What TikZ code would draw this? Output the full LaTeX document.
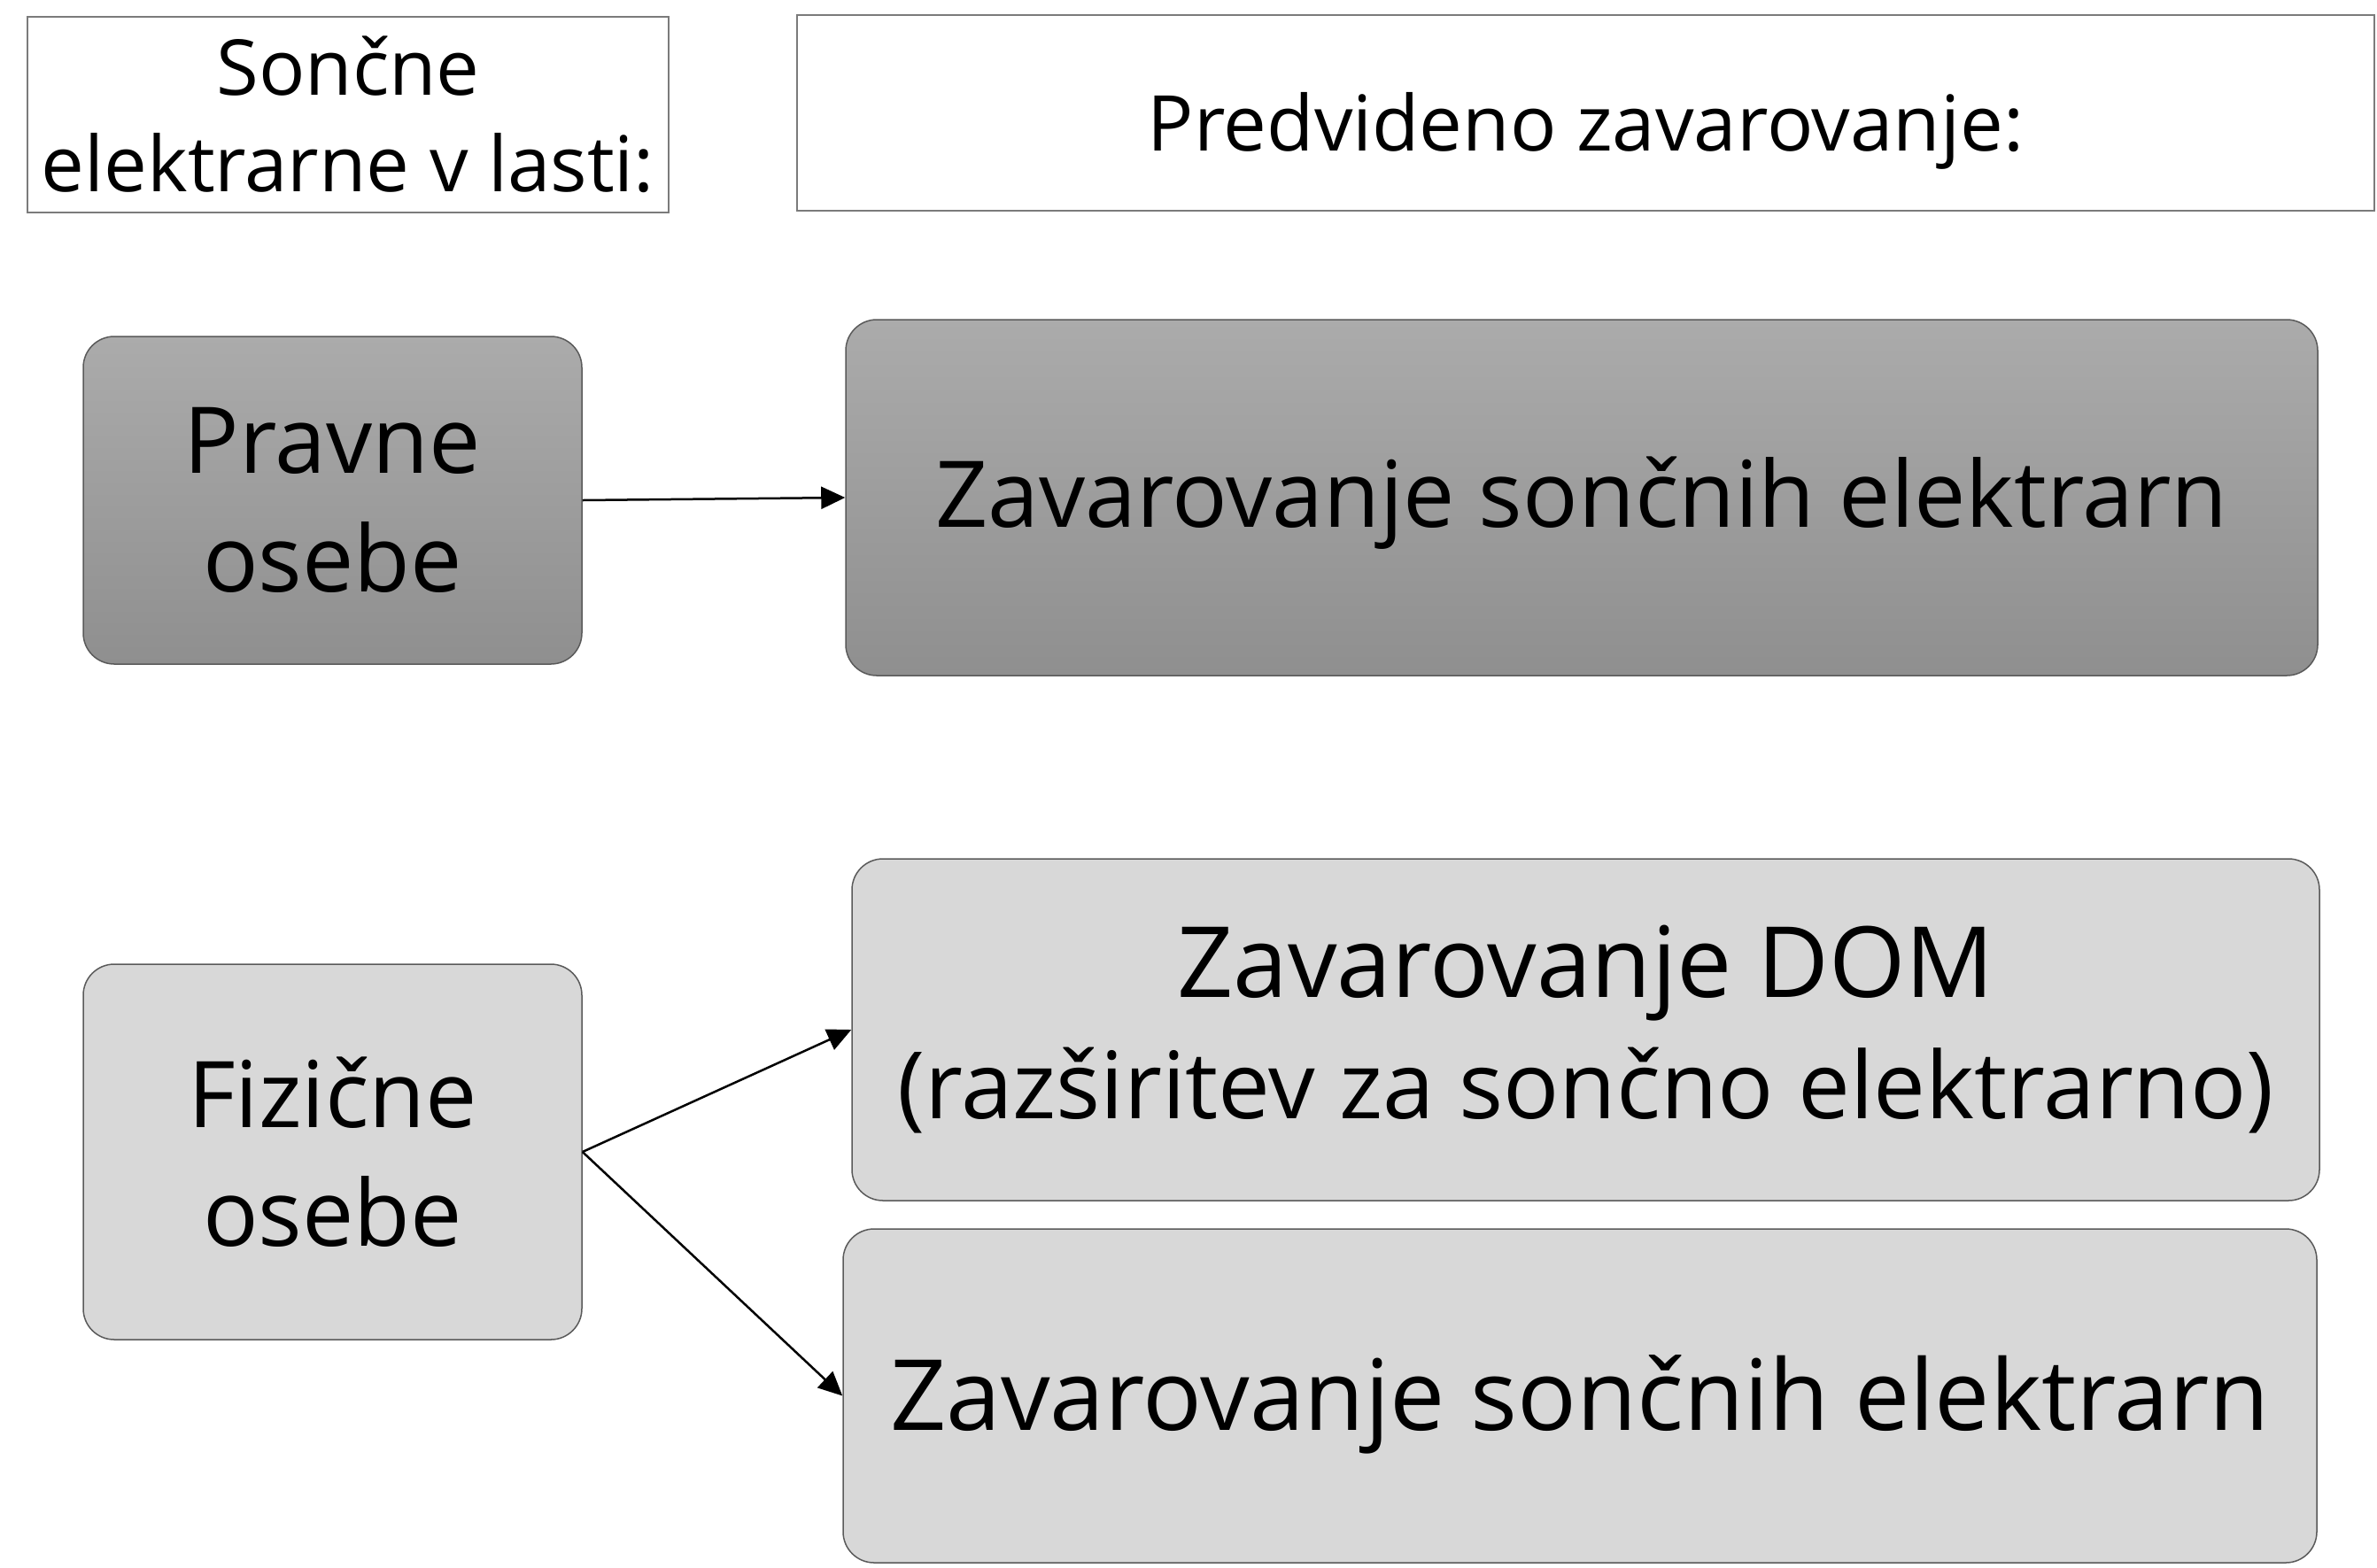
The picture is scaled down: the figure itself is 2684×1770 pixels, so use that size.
\documentclass[tikz,border=0pt]{standalone}
\usepackage{fontspec}
\setmainfont{Open Sans}
\usepackage{tikz}
\usepackage{xcolor}
\usetikzlibrary{arrows.meta}

\definecolor{svetla}{HTML}{D8D8D8}
\definecolor{temnazg}{HTML}{ABABAB}
\definecolor{temnasp}{HTML}{8F8F8F}
\definecolor{obroba}{HTML}{5A5A5A}

% spusti besedilo, velikost skatle ostane ista
\newcommand{\spusti}[2]{\raisebox{-#1}[\height][\depth]{#2}}

\begin{document}
\begin{tikzpicture}[x=1pt,y=-1pt,
  glava/.style={draw=obroba!80,line width=2pt,fill=white,align=center,inner sep=0pt,
    font=\fontsize{87}{109}\selectfont},
  skatla/.style={draw=obroba,line width=1.5pt,rounded corners=35pt,align=center,inner sep=0pt},
  temna/.style={skatla,top color=temnazg,bottom color=temnasp},
  siva/.style={skatla,fill=svetla},
  puscica/.style={-{Triangle[length=27pt,width=25pt]},line width=2.5pt}]
\useasboundingbox (0,0) rectangle (2684,1770);
% glava
\node[glava,minimum width=724pt,minimum height=221pt] (lastnik) at (393,129) {Sončne\\elektrarne v lasti:};
\node[glava,minimum width=1781pt,minimum height=221pt] (predvideno) at (1790.5,127.5) {\spusti{20pt}{Predvideno zavarovanje:}};
% pravne osebe
\node[temna,minimum width=563pt,minimum height=370pt,font=\fontsize{104}{134}\selectfont] (pravne) at (375.5,565) {Pravne\\osebe};
\node[temna,minimum width=1662pt,minimum height=402pt,font=\fontsize{104}{134}\selectfont] (elektrarne1) at (1786,562) {\spusti{6pt}{Zavarovanje sončnih elektrarn}};
% fizicne osebe
\node[siva,minimum width=563pt,minimum height=424pt,font=\fontsize{104}{134}\selectfont] (fizicne) at (375.5,1301) {Fizične\\osebe};
\node[siva,minimum width=1657pt,minimum height=386pt,font=\fontsize{111}{137}\selectfont] (dom) at (1790.5,1163) {Zavarovanje DOM\\{\fontsize{105}{137}\selectfont (razširitev za sončno elektrarno)}};
\node[siva,minimum width=1664pt,minimum height=377pt,font=\fontsize{111}{137}\selectfont] (elektrarne2) at (1784,1576.5) {\spusti{10pt}{Zavarovanje sončnih elektrarn}};
\draw[puscica] (pravne.east) -- (elektrarne1.west);
\draw[puscica] (fizicne.east) -- (dom.west);
\draw[puscica] (fizicne.east) -- (elektrarne2.west);
\end{tikzpicture}
\end{document}
